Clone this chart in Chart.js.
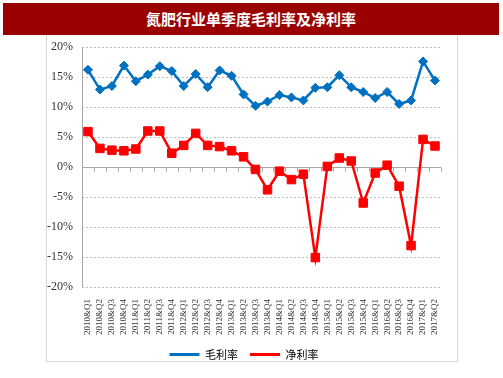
<!DOCTYPE html>
<html>
<head>
<meta charset="utf-8">
<script src="https://cdn.jsdelivr.net/npm/chart.js@4.4.1/dist/chart.umd.min.js"></script>
<style>
  body { margin: 0; background: #fff; width: 503px; height: 378px; overflow: hidden; position: relative; }
  #title { position: absolute; left: 3px; top: 3px; width: 496px; height: 32px; background: #9b0000; color: #fff;
           font: bold 15px "Noto Sans CJK SC", sans-serif; line-height: 32px; text-align: center; }
  #frame { position: absolute; left: 46px; top: 35px; width: 410px; height: 326px; border: 1px solid #d9d9d9; border-top: none; }
  #c { position: absolute; left: 0; top: 0; }
</style>
</head>
<body>
<div id="title">氮肥行业单季度毛利率及净利率</div>
<div id="frame"></div>
<canvas id="c" width="503" height="378"></canvas>
<script>
var quarters = [
  "2010&Q1","2010&Q2","2010&Q3","2010&Q4",
  "2011&Q1","2011&Q2","2011&Q3","2011&Q4",
  "2012&Q1","2012&Q2","2012&Q3","2012&Q4",
  "2013&Q1","2013&Q2","2013&Q3","2013&Q4",
  "2014&Q1","2014&Q2","2014&Q3","2014&Q4",
  "2015&Q1","2015&Q2","2015&Q3","2015&Q4",
  "2016&Q1","2016&Q2","2016&Q3","2016&Q4",
  "2017&Q1","2017&Q2"
];
var grossMargin = [16.2, 12.9, 13.5, 16.9, 14.3, 15.4, 16.8, 16.0, 13.5, 15.5, 13.3, 16.1, 15.2, 12.1, 10.2, 10.9,
                   12.0, 11.6, 11.1, 13.2, 13.3, 15.3, 13.3, 12.5, 11.5, 12.5, 10.5, 11.1, 17.6, 14.4];
var netMargin = [5.9, 3.1, 2.8, 2.7, 3.0, 6.0, 6.0, 2.3, 3.6, 5.6, 3.6, 3.4, 2.7, 1.7, -0.4, -3.8,
                 -0.7, -2.1, -1.2, -15.1, 0.1, 1.5, 1.0, -6.0, -1.0, 0.3, -3.2, -13.1, 4.6, 3.5];
var yTicks = [-20, -15, -10, -5, 0, 5, 10, 15, 20];

// zero line with category tick marks
var zeroAxis = {
  id: 'zeroAxis',
  beforeDatasetsDraw: function(chart) {
    var ctx = chart.ctx, x = chart.scales.x, y = chart.scales.y;
    var y0 = Math.round(y.getPixelForValue(0)) + 0.5;
    var half = (x.getPixelForValue(1) - x.getPixelForValue(0)) / 2;
    ctx.save();
    ctx.strokeStyle = '#a6a6a6';
    ctx.lineWidth = 1;
    ctx.beginPath();
    ctx.moveTo(chart.chartArea.left, y0);
    ctx.lineTo(chart.chartArea.right, y0);
    for (var i = 0; i <= quarters.length; i++) {
      var px = Math.round(x.getPixelForValue(i) - half) + 0.5;
      ctx.moveTo(px, y0);
      ctx.lineTo(px, y0 + 4);
    }
    ctx.stroke();
    // solid left axis line
    var lx = Math.round(chart.chartArea.left) + 0.5;
    ctx.beginPath();
    ctx.moveTo(lx, chart.chartArea.top);
    ctx.lineTo(lx, chart.chartArea.bottom);
    ctx.stroke();
    ctx.restore();
  }
};

new Chart(document.getElementById('c'), {
  type: 'line',
  data: {
    labels: quarters,
    datasets: [
      {
        label: '毛利率',
        data: grossMargin,
        borderColor: '#0070c0',
        backgroundColor: '#0070c0',
        borderWidth: 2.5,
        pointStyle: 'rectRot',
        pointRadius: 4.5,
        pointBorderWidth: 1,
        tension: 0
      },
      {
        label: '净利率',
        data: netMargin,
        borderColor: '#ff0000',
        backgroundColor: '#ff0000',
        borderWidth: 2.5,
        pointStyle: 'rect',
        pointRadius: 6,
        pointBorderWidth: 1,
        tension: 0
      }
    ]
  },
  options: {
    responsive: false,
    animation: false,
    devicePixelRatio: 1,
    layout: { padding: { left: 47, right: 62, top: 47, bottom: 8 } },
    plugins: {
      legend: {
        position: 'bottom',
        labels: {
          boxWidth: 30,
          boxHeight: 3,
          padding: 12,
          color: '#333',
          font: { family: '"Noto Sans CJK SC", sans-serif', size: 11 },
          generateLabels: function(chart) {
            return chart.data.datasets.map(function(ds, i) {
              return { text: ds.label, fillStyle: ds.borderColor, strokeStyle: ds.borderColor, lineWidth: 0, datasetIndex: i };
            });
          }
        }
      },
      tooltip: { enabled: false }
    },
    scales: {
      x: {
        offset: true,
        grid: { display: false },
        border: { display: false },
        ticks: {
          autoSkip: false,
          minRotation: 90,
          maxRotation: 90,
          color: '#333',
          padding: 4,
          font: { family: '"Liberation Serif", serif', size: 9 }
        },
        afterFit: function(s) { s.height = 50; }
      },
      y: {
        min: -20,
        max: 20,
        afterBuildTicks: function(s) { s.ticks = yTicks.map(function(v) { return { value: v }; }); },
        grid: {
          color: function(c) { return c.tick.value === 0 ? 'rgba(0,0,0,0)' : '#bdbdbd'; },
          drawTicks: false
        },
        border: { display: false, dash: [2, 2] },
        ticks: {
          color: '#333',
          padding: 9,
          font: { family: '"Liberation Serif", serif', size: 12 },
          callback: function(v) { return v + '%'; }
        },
        afterFit: function(s) { s.width = 35; }
      }
    }
  },
  plugins: [zeroAxis]
});
</script>
</body>
</html>
